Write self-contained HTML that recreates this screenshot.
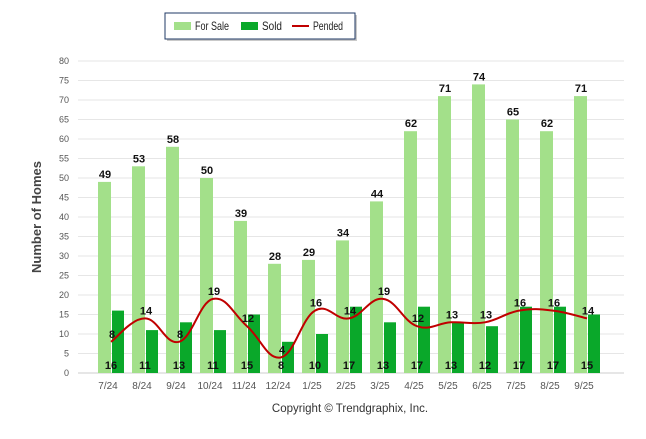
<!DOCTYPE html>
<html><head><meta charset="utf-8"><style>
body{margin:0;background:#fff;font-family:"Liberation Sans",sans-serif;}
svg text{font-family:"Liberation Sans",sans-serif;}
</style></head><body>
<svg id="c" width="646" height="434">
<g>
<rect x="167" y="15" width="190" height="26" fill="#777" opacity="0.4"/>
<rect x="165" y="13" width="190" height="26" fill="#fff" stroke="#1f3864" stroke-width="1"/>
<rect x="174" y="22" width="17" height="8" fill="#a3e08a"/>
<text x="195" y="30" font-size="12" textLength="34" lengthAdjust="spacingAndGlyphs" fill="#222">For Sale</text>
<rect x="241" y="22" width="17" height="8" fill="#0aa82a"/>
<text x="262" y="30" font-size="12" textLength="20" lengthAdjust="spacingAndGlyphs" fill="#222">Sold</text>
<line x1="292" y1="26" x2="309" y2="26" stroke="#c00000" stroke-width="2"/>
<text x="313" y="30" font-size="12" textLength="30" lengthAdjust="spacingAndGlyphs" fill="#222">Pended</text>
</g>
<text transform="translate(41,217) rotate(-90)" text-anchor="middle" font-size="13" font-weight="bold" fill="#444">Number of Homes</text>
<text x="350" y="412" text-anchor="middle" font-size="11.5" fill="#333">Copyright © Trendgraphix, Inc.</text>
<g id="grid"></g><g id="bars"></g><g id="line"></g><g id="labels"></g>
</svg>
<script>
const categories=["7/24","8/24","9/24","10/24","11/24","12/24","1/25","2/25","3/25","4/25","5/25","6/25","7/25","8/25","9/25"];
const forSale=[49,53,58,50,39,28,29,34,44,62,71,74,65,62,71];
const sold=[16,11,13,11,15,8,10,17,13,17,13,12,17,17,15];
const pended=[8,14,8,19,12,4,16,14,19,12,13,13,16,16,14];
const yTicks=[0,5,10,15,20,25,30,35,40,45,50,55,60,65,70,75,80];
const NS="http://www.w3.org/2000/svg";
const y=v=>373-v*3.9, x=i=>111+i*34;
function mk(tag,attrs,parent,txt){const e=document.createElementNS(NS,tag);for(const k in attrs)e.setAttribute(k,attrs[k]);if(txt!==undefined)e.textContent=txt;document.getElementById(parent).appendChild(e);return e;}
yTicks.forEach(t=>{
  const l=mk('line',{x1:78,x2:624,y1:y(t),y2:y(t),stroke:t?'#e6e6e6':'#ccc','stroke-width':1},'grid');
  
  
  const tx=mk('text',{x:69,y:y(t)+3,'text-anchor':'end','font-size':9,fill:'#555'},'grid',t);
  
  
});
categories.forEach((c,i)=>{
  const tx=mk('text',{x:x(i)-3,y:389,'text-anchor':'middle','font-size':10,fill:'#555'},'grid',c);
  
  
  const b1=mk('rect',{x:x(i)-13,y:y(forSale[i]),width:13,height:forSale[i]*3.9,fill:'#a3e08a'},'bars');
  
  
  const b2=mk('rect',{x:x(i)+1,y:y(sold[i]),width:12,height:sold[i]*3.9,fill:'#0aa82a'},'bars');
  
  
  const l1=mk('text',{x:x(i)-6,y:y(forSale[i])-4,'text-anchor':'middle','font-size':11,'font-weight':'bold',fill:'#111'},'labels',forSale[i]);
  
  
  const l2=mk('text',{x:x(i),y:369,'text-anchor':'middle','font-size':11,'font-weight':'bold',fill:'#111'},'labels',sold[i]);
  
  
  const l3=mk('text',{x:x(i)+1,y:y(pended[i])-4,'text-anchor':'middle','font-size':11,'font-weight':'bold',fill:'#111'},'labels',pended[i]);
  
  
});
const pts=pended.map((v,i)=>[x(i),y(v)]);
let d='M'+pts[0][0]+','+pts[0][1];
for(let i=0;i<pts.length-1;i++){
  const p0=pts[Math.max(i-1,0)],p1=pts[i],p2=pts[i+1],p3=pts[Math.min(i+2,pts.length-1)];
  const t=0.2;
  d+=' C'+(p1[0]+(p2[0]-p0[0])*t)+','+(p1[1]+(p2[1]-p0[1])*t)+' '+(p2[0]-(p3[0]-p1[0])*t)+','+(p2[1]-(p3[1]-p1[1])*t)+' '+p2[0]+','+p2[1];
}
const pl=mk('path',{d:d,fill:'none',stroke:'#c00000','stroke-width':2},'line');


</script>
</body></html>
